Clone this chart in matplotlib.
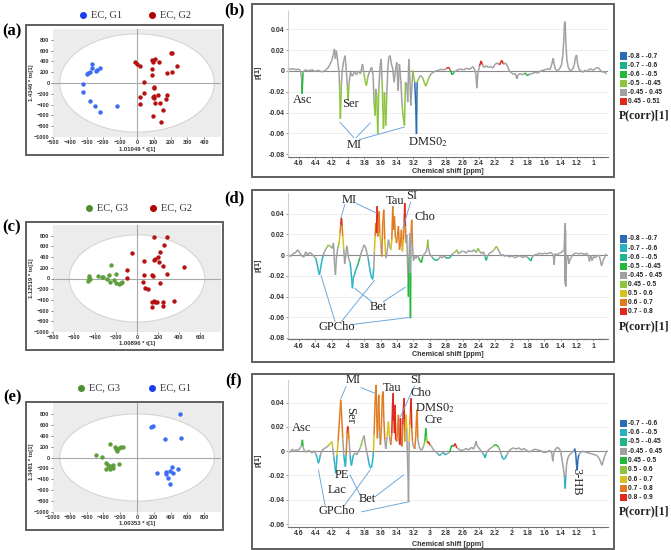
import numpy as np
import matplotlib
matplotlib.use('Agg')
import matplotlib.pyplot as plt
from matplotlib.collections import LineCollection
from matplotlib.patches import Rectangle, Ellipse
from matplotlib.ticker import MultipleLocator

plt.rcParams['mathtext.fontset'] = 'stix'
SERIF = 'Liberation Serif'
SANS = 'Liberation Sans'

# ---------------- score plots (t[1] vs to[1]) ----------------
a_g1_x = [-265, -265, -237, -223, -245, -289, -295, -277, -321, -323, -281, -249, -221, -118]
a_g1_y = [344, 282, 233, 276, 214, 177, 165, 196, -20, -168, -328, -420, -544, -420]
a_g2_x = [-14, -2, 18, 87, 97, 107, 133, 205, 211, 237, 177, 209, 89, 87, 44, 99, 103, 44, 20, 18,
          101, 101, 127, 177, 171, 109, 137, 157, 93, 145, 97]
a_g2_y = [381, 356, 319, 430, 393, 442, 387, 553, 553, 307, 184, 202, 264, 147, 23, -75, -88, -192, -266, -390,
          -242, -279, -229, -229, -297, -365, -377, -494, -618, -723, -265]

c_g3_x = [-460, -445, -463, -460, -375, -338, -328, -287, -256, -249, -262, -196, -218, -202, -171, -155, -146]
c_g3_y = [54, -3, -40, 10, 47, 22, 35, -3, -59, 254, 66, 91, -28, -91, -103, -78, -59]
c_g2_x = [-45, 163, 71, 175, 163, 216, 197, 213, 244, 285, 449, -92, -92, 71, 147, 153, 59, 75, 106, 222,
          160, 172, 191, 144, 244, 244, 140, 355, 285, 254]
c_g2_y = [474, 769, 330, 361, 348, 486, 399, 317, 242, 85, 210, 160, 3, 60, 60, 40, -59, -185, -197, -91,
          -417, -436, -448, -448, -448, -517, -536, -423, 780, 630]

e_g3_x = [-490, -415, -324, -264, -252, -244, -213, -185, -165, -367, -343, -324, -304, -284, -371, -316, -331, -213, -284, -300]
e_g3_y = [51, 14, 241, 198, 149, 112, 167, 186, 198, -109, -146, -183, -171, -140, -220, -207, -158, -121, -195, -160]
e_g1_x = [507, 163, 191, 337, 527, 242, 349, 349, 389, 416, 428, 487, 369, 389]
e_g1_y = [806, 567, 579, 339, 364, -287, -275, -300, -250, -183, -293, -214, -379, -490]

# ---------------- loading spectra p[1] ----------------
b_ppm = [4.771, 4.738, 4.706, 4.673, 4.640, 4.608, 4.583, 4.571, 4.566, 4.563,
         4.551, 4.526, 4.485, 4.445, 4.404, 4.363, 4.322, 4.281, 4.249, 4.224,
         4.200, 4.183, 4.167, 4.155, 4.143, 4.126, 4.110, 4.102, 4.094, 4.081,
         4.069, 4.053, 4.037, 4.020, 4.008, 4.000, 3.988, 3.971, 3.947, 3.922,
         3.898, 3.873, 3.849, 3.824, 3.808, 3.792, 3.776, 3.759, 3.735, 3.710,
         3.694, 3.682, 3.669, 3.661, 3.649, 3.637, 3.624, 3.608, 3.596, 3.584,
         3.567, 3.555, 3.539, 3.527, 3.514, 3.502, 3.486, 3.470, 3.453, 3.437,
         3.421, 3.404, 3.388, 3.372, 3.355, 3.339, 3.323, 3.310, 3.298, 3.282,
         3.270, 3.257, 3.245, 3.233, 3.221, 3.208, 3.196, 3.184, 3.172, 3.163,
         3.155, 3.139, 3.115, 3.090, 3.066, 3.049, 3.029, 3.008, 2.984, 2.960,
         2.927, 2.894, 2.862, 2.829, 2.796, 2.772, 2.752, 2.727, 2.703, 2.670,
         2.629, 2.588, 2.548, 2.507, 2.474, 2.454, 2.437, 2.425, 2.413, 2.393,
         2.372, 2.356, 2.335, 2.311, 2.282, 2.254, 2.229, 2.201, 2.172, 2.148,
         2.119, 2.099, 2.074, 2.050, 2.025, 2.001, 1.976, 1.952, 1.936, 1.919,
         1.895, 1.862, 1.834, 1.809, 1.781, 1.748, 1.715, 1.683, 1.650, 1.617,
         1.585, 1.552, 1.528, 1.507, 1.491, 1.479, 1.462, 1.438, 1.413, 1.389,
         1.373, 1.360, 1.352, 1.344, 1.336, 1.324, 1.307, 1.283, 1.254, 1.234,
         1.218, 1.205, 1.193, 1.177, 1.152, 1.128, 1.103, 1.079, 1.054, 1.030,
         1.005, 0.981, 0.956, 0.932, 0.907, 0.883, 0.858, 0.842]
b_p = [0.0019, 0.0026, 0.0013, 0.0022, 0.0010, 0.0019, 0.0003, -0.0061, -0.0110, -0.0220,
       -0.0013, 0.0010, 0.0, 0.0013, -0.0006, 0.0006, -0.0010, 0.0003, 0.0026, 0.0058,
       0.0099, 0.0147, 0.0211, 0.0115, 0.0195, 0.0083, -0.0013, -0.0205, -0.0460, -0.0109,
       0.0019, 0.0099, 0.0147, -0.0013, -0.0157, -0.0285, -0.0125, -0.0013, -0.0051, -0.0006,
       -0.0038, 0.0, -0.0029, 0.0067, -0.0013, -0.0093, -0.0141, -0.0061, 0.0003, 0.0035,
       -0.0045, -0.0300, -0.0429, -0.0173, -0.0237, -0.0605, -0.0173, 0.0051, 0.0115, -0.0093,
       -0.0557, -0.0205, -0.0525, -0.0237, 0.0019, 0.0131, 0.0147, 0.0067, 0.0019, -0.0109,
       0.0003, 0.0083, -0.0189, 0.0067, -0.0093, -0.0333, -0.0461, -0.0525, -0.0109, -0.0125,
       -0.0301, 0.0115, -0.0061, -0.0333, -0.0173, 0.0003, -0.0061, -0.0109, -0.0333, -0.0605,
       -0.0109, -0.0077, -0.0045, -0.0061, -0.0115, -0.0147, -0.0102, -0.0058, -0.0029, -0.0013,
       0.0, 0.0006, 0.0016, 0.0010, 0.0022, 0.0035, 0.0013, -0.0038, -0.0013, 0.0006,
       0.0019, 0.0010, 0.0026, 0.0016, 0.0042, 0.0019, -0.0029, -0.0166, -0.0029, 0.0045,
       0.0096, 0.0058, 0.0032, 0.0051, 0.0032, 0.0045, 0.0026, 0.0064, 0.0077, 0.0058,
       0.0102, 0.0064, 0.0077, 0.0045, 0.0, -0.0019, -0.0032, -0.0026, -0.0077, -0.0038,
       -0.0026, -0.0038, -0.0019, -0.0045, -0.0032, -0.0026, -0.0013, -0.0022, -0.0003, 0.0006,
       0.0013, 0.0022, 0.0013, 0.0067, 0.0122, 0.0067, 0.0013, 0.0003, 0.0019, 0.0058,
       0.0147, 0.0307, 0.0467, 0.0474, 0.0275, 0.0115, 0.0035, 0.0003, 0.0013, 0.0051,
       0.0131, 0.0154, 0.0077, 0.0019, 0.0, -0.0013, 0.0006, -0.0006, 0.0013, 0.0019,
       0.0006, 0.0019, 0.0032, 0.0026, 0.0, -0.0013, -0.0006, -0.0032]
b_cls = ("nnnnnnnnng nnnnnnnnnn nnnnnnnnyn nnnnnynnnn nnnnnyynnn nnynnynnnn ynynnnnnnn "
         "nnnnnnyynn nnnnnnyybb ynnnyyynnn nnnnnrngnn nnnnnnnnnn rnnnnnnnnn rnnnnnnnnn "
         "nnngnnnnnn nnnnnnnnnn nnnnnnnnnn nnnnnnnnnn nnnnnnnn")

d_ppm = [4.771, 4.738, 4.706, 4.673, 4.640, 4.616, 4.591, 4.567, 4.542, 4.518,
         4.494, 4.469, 4.445, 4.420, 4.396, 4.379, 4.363, 4.351, 4.339, 4.322,
         4.306, 4.290, 4.273, 4.257, 4.241, 4.224, 4.208, 4.192, 4.179, 4.167,
         4.155, 4.143, 4.126, 4.110, 4.098, 4.090, 4.081, 4.073, 4.065, 4.053,
         4.041, 4.028, 4.016, 4.004, 3.992, 3.975, 3.963, 3.955, 3.947, 3.935,
         3.922, 3.906, 3.890, 3.873, 3.857, 3.841, 3.820, 3.804, 3.788, 3.771,
         3.755, 3.739, 3.722, 3.710, 3.698, 3.686, 3.678, 3.669, 3.661, 3.653,
         3.645, 3.637, 3.629, 3.620, 3.612, 3.600, 3.588, 3.576, 3.563, 3.551,
         3.539, 3.522, 3.506, 3.494, 3.478, 3.465, 3.453, 3.445, 3.433, 3.421,
         3.408, 3.396, 3.384, 3.371, 3.359, 3.347, 3.335, 3.322, 3.314, 3.306,
         3.298, 3.290, 3.282, 3.274, 3.265, 3.261, 3.253, 3.245, 3.241, 3.237,
         3.233, 3.229, 3.221, 3.212, 3.200, 3.184, 3.168, 3.151, 3.135, 3.119,
         3.102, 3.086, 3.066, 3.049, 3.033, 3.025, 3.017, 3.000, 2.984, 2.964,
         2.943, 2.919, 2.894, 2.870, 2.845, 2.821, 2.796, 2.760, 2.735, 2.711,
         2.686, 2.670, 2.650, 2.621, 2.588, 2.556, 2.523, 2.491, 2.458, 2.433,
         2.409, 2.393, 2.368, 2.344, 2.323, 2.311, 2.295, 2.270, 2.242, 2.221,
         2.201, 2.184, 2.168, 2.148, 2.127, 2.107, 2.082, 2.058, 2.025, 1.993,
         1.960, 1.927, 1.895, 1.862, 1.829, 1.797, 1.781, 1.764, 1.748, 1.724,
         1.691, 1.658, 1.626, 1.593, 1.560, 1.528, 1.503, 1.487, 1.479, 1.470,
         1.446, 1.413, 1.381, 1.356, 1.348, 1.346, 1.344, 1.342, 1.340, 1.336, 1.328, 1.311,
         1.299, 1.283, 1.262, 1.242, 1.209, 1.177, 1.144, 1.111, 1.079, 1.058,
         1.046, 1.034, 1.014, 0.997, 0.973, 0.948, 0.924, 0.899, 0.879, 0.858,
         0.842]
d_p = [-0.0006, 0.0006, -0.0013, 0.0013, 0.0026, 0.0052, 0.0019, -0.0006, -0.0019, 0.0032,
       0.0, 0.0026, 0.0013, -0.0013, -0.0029, -0.0084, -0.0149, -0.0191, -0.0142, -0.0061,
       -0.0006, 0.0032, 0.0058, 0.0078, 0.0097, 0.0090, 0.0078, 0.0065, 0.0116, -0.0061,
       -0.0191, -0.0029, 0.0068, 0.0116, 0.0213, 0.0294, 0.0359, 0.0278, 0.0181, 0.0058,
       -0.0084, 0.0003, 0.0090, 0.0036, -0.0039, -0.0071, -0.0158, -0.0239, -0.0320, -0.0213,
       -0.0191, -0.0142, -0.0116, -0.0071, -0.0029, 0.0019, 0.0065, 0.0100, 0.0078, 0.0026,
       -0.0029, -0.0110, -0.0191, -0.0223, -0.0233, -0.0126, 0.0036, 0.0181, 0.0310, 0.0213,
       0.0472, 0.0181, 0.0326, 0.0423, 0.0213, 0.0116, -0.0013, 0.0310, 0.0439, 0.0149,
       -0.0029, 0.0036, 0.0149, 0.0100, 0.0052, 0.0149, 0.0472, 0.0245, 0.0375, 0.0165,
       0.0116, 0.0181, 0.0278, 0.0052, 0.0116, 0.0245, 0.0036, 0.0149, 0.0310, 0.0504,
       0.0278, 0.0116, 0.0197, -0.0045, -0.0271, -0.0401, -0.0013, 0.0213, -0.0174, -0.0610,
       -0.0174, 0.0229, 0.0342, 0.0100, -0.0052, -0.0013, -0.0032, 0.0, -0.0026, -0.0058,
       -0.0071, -0.0013, 0.0013, 0.0026, 0.0068, 0.0149, 0.0068, 0.0013, -0.0006, -0.0026,
       -0.0045, -0.0052, -0.0039, -0.0013, -0.0026, -0.0006, -0.0032, -0.0032, 0.0, 0.0019,
       0.0032, 0.0052, 0.0013, 0.0032, 0.0039, 0.0019, 0.0045, 0.0032, 0.0052, 0.0026,
       0.0065, 0.0039, 0.0013, 0.0032, -0.0013, -0.0052, -0.0013, 0.0019, 0.0032, 0.0045,
       0.0065, 0.0084, 0.0058, 0.0032, -0.0006, 0.0006, -0.0013, 0.0, -0.0019, -0.0006,
       -0.0026, -0.0013, -0.0006, -0.0023, -0.0010, -0.0026, -0.0039, -0.0058, -0.0019, 0.0,
       0.0006, 0.0019, 0.0010, 0.0019, 0.0013, 0.0026, 0.0019, -0.0013, -0.0094, 0.0013,
       0.0003, 0.0019, 0.0032, 0.0052, 0.0278, -0.0250, 0.0310, -0.0287, 0.0240, -0.0304, -0.0045, -0.0006,
       -0.0084, -0.0039, -0.0013, 0.0013, 0.0019, 0.0013, 0.0019, 0.0006, 0.0019, -0.0013,
       -0.0061, 0.0, -0.0052, -0.0013, -0.0026, 0.0, -0.0013, -0.0103, -0.0052, -0.0013,
       0.0013]
d_cls = ("nnnnnnnnnn nnnnnTTTTT nnnyynnnnn nnnyYoroYn nnnnnnTTTT TGGgnnnnnn nTTTTnyYoo "
         "roooYnnooY nnnnnYoooY noonoonYor onnnngnnng nnonnnnnng gnnnnynnnn GGnnnnnGnn "
         "nynnnnnnnn ynnnnGnnnn yynnnnnnnn nnnnnnGGnn nnnnnnnnnn nnnnnnnnnnnn nnnnnnnnnn "
         "nnnnnnnnnn n")

f_ppm = [4.771, 4.738, 4.706, 4.681, 4.657, 4.632, 4.608, 4.583, 4.567, 4.559,
         4.551, 4.534, 4.510, 4.485, 4.461, 4.436, 4.412, 4.392, 4.379, 4.363,
         4.351, 4.339, 4.322, 4.298, 4.273, 4.249, 4.228, 4.212, 4.200, 4.188,
         4.175, 4.163, 4.151, 4.143, 4.135, 4.122, 4.110, 4.098, 4.090, 4.077,
         4.065, 4.053, 4.041, 4.032, 4.024, 4.012, 4.004, 3.996, 3.988, 3.975,
         3.967, 3.959, 3.947, 3.935, 3.914, 3.894, 3.873, 3.849, 3.828, 3.816,
         3.804, 3.792, 3.776, 3.759, 3.747, 3.731, 3.714, 3.702, 3.690, 3.682,
         3.673, 3.665, 3.657, 3.649, 3.641, 3.633, 3.624, 3.616, 3.604, 3.592,
         3.580, 3.571, 3.563, 3.551, 3.539, 3.522, 3.506, 3.494, 3.478, 3.465,
         3.457, 3.449, 3.441, 3.433, 3.425, 3.417, 3.404, 3.392, 3.384, 3.376,
         3.367, 3.359, 3.351, 3.339, 3.331, 3.323, 3.314, 3.306, 3.298, 3.290,
         3.282, 3.274, 3.265, 3.261, 3.257, 3.253, 3.245, 3.237, 3.229, 3.221,
         3.212, 3.200, 3.184, 3.172, 3.163, 3.155, 3.147, 3.135, 3.119, 3.098,
         3.078, 3.061, 3.049, 3.041, 3.029, 3.017, 3.000, 2.984, 2.964, 2.943,
         2.923, 2.902, 2.882, 2.862, 2.837, 2.813, 2.788, 2.760, 2.731, 2.711,
         2.690, 2.670, 2.646, 2.621, 2.588, 2.556, 2.523, 2.491, 2.466, 2.446,
         2.433, 2.421, 2.401, 2.376, 2.352, 2.335, 2.323, 2.311, 2.291, 2.262,
         2.238, 2.217, 2.197, 2.180, 2.160, 2.140, 2.123, 2.107, 2.091, 2.074,
         2.058, 2.033, 2.009, 1.976, 1.944, 1.911, 1.879, 1.846, 1.813, 1.781,
         1.748, 1.715, 1.683, 1.650, 1.617, 1.585, 1.552, 1.528, 1.507, 1.495,
         1.483, 1.462, 1.438, 1.413, 1.397, 1.381, 1.364, 1.352, 1.344, 1.336,
         1.328, 1.311, 1.291, 1.266, 1.242, 1.226, 1.213, 1.205, 1.197, 1.189,
         1.177, 1.156, 1.132, 1.103, 1.075, 1.046, 1.018, 0.989, 0.960, 0.932,
         0.912, 0.895, 0.879, 0.862, 0.846, 0.834]
f_p = [-0.0017, 0.0003, -0.0008, 0.0019, -0.0003, 0.0014, 0.0008, 0.0030, 0.0052, 0.0094,
       0.0039, 0.0003, -0.0008, 0.0008, -0.0003, -0.0014, 0.0003, -0.0025, -0.0052, -0.0099,
       -0.0072, -0.0030, 0.0003, 0.0019, 0.0030, 0.0041, 0.0058, 0.0069, 0.0080, 0.0030,
       -0.0044, -0.0107, -0.0182, -0.0113, -0.0030, 0.0080, 0.0217, 0.0327, 0.0424, 0.0272,
       0.0107, -0.0025, -0.0099, -0.0127, -0.0030, 0.0149, 0.0204, 0.0176, 0.0094, -0.0030,
       -0.0091, -0.0118, -0.0072, -0.0030, -0.0014, -0.0030, -0.0003, 0.0030, 0.0080, 0.0107,
       0.0129, 0.0066, 0.0011, -0.0044, -0.0091, -0.0135, -0.0135, -0.0091, -0.0003, 0.0135,
       0.0327, 0.0465, 0.0547, 0.0272, 0.0107, 0.0327, 0.0465, 0.0162, 0.0052, 0.0217,
       0.0465, 0.0492, 0.0272, 0.0094, 0.0019, 0.0121, 0.0245, 0.0121, 0.0052, 0.0149,
       0.0355, 0.0479, 0.0245, 0.0149, 0.0382, 0.0094, 0.0080, 0.0217, 0.0300, 0.0080,
       0.0052, 0.0272, 0.0052, 0.0039, 0.0217, 0.0355, 0.0437, 0.0080, 0.0245, 0.0300,
       0.0190, -0.0030, -0.0250, -0.0415, -0.0195, 0.0080, 0.0217, 0.0327, 0.0437, 0.0190,
       0.0080, 0.0039, 0.0019, 0.0121, 0.0272, 0.0341, 0.0107, 0.0047, 0.0019, 0.0008,
       0.0039, 0.0080, 0.0190, 0.0121, 0.0066, 0.0080, 0.0052, 0.0047, 0.0019, 0.0003,
       -0.0008, -0.0019, -0.0036, -0.0025, -0.0008, -0.0030, -0.0019, -0.0010, 0.0050, 0.0039,
       0.0063, 0.0028, 0.0017, 0.0006, 0.0011, 0.0022, 0.0011, 0.0033, 0.0017, 0.0050,
       0.0083, 0.0044, 0.0028, 0.0006, -0.0017, -0.0033, -0.0055, -0.0022, 0.0006, 0.0022,
       0.0033, 0.0044, 0.0055, 0.0050, 0.0033, 0.0006, -0.0033, -0.0061, -0.0066, -0.0055,
       -0.0028, 0.0, 0.0017, 0.0028, 0.0017, 0.0028, 0.0011, 0.0022, 0.0006, -0.0006,
       0.0006, 0.0017, 0.0011, 0.0006, -0.0006, -0.0011, 0.0, 0.0006, -0.0019, -0.0083,
       -0.0011, 0.0017, 0.0033, 0.0017, -0.0011, -0.0074, -0.0149, -0.0226, -0.0308, -0.0198,
       -0.0116, -0.0055, -0.0028, -0.0017, 0.0006, 0.0022, -0.0033, -0.0116, -0.0157, -0.0074,
       -0.0028, -0.0011, 0.0, -0.0006, -0.0011, -0.0017, -0.0022, -0.0028, -0.0033, -0.0055,
       -0.0083, -0.0116, -0.0083, -0.0044, -0.0017, 0.0006]
f_cls = ("nnnnnnnnng nnnnnnnnTT TnnnnnyYYn nTTTnYoooo nnTTnoronn TTTnnnnnyy nnnnTTTTnY "
         "oooonoonno ooonnnYnno rronrnnoon nrnnorrnYY nnnnnnYoro nnnooonnnn nygyoronnn "
         "nnTnnTnngn rnnnnnnnnn nnnnnTTnnn nyggnnnTTT nnnnnnnnnn nnnnnnnnnn nnnnnnnnTn "
         "nnnnnnBBBB nnnnnnnnnn nnnnnn")

# legend classes of P(corr)[1]
b_leg = ['-0.8 - -0.7', '-0.7 - -0.6', '-0.6 - -0.5', '-0.5 - -0.45', '-0.45 - 0.45', '0.45 - 0.51']
b_leg_col = ['#2a6db5', '#1fb090', '#22b83c', '#8cc63e', '#a0a0a0', '#e0281e']
d_leg = ['-0.8 - -0.7', '-0.7 - -0.6', '-0.6 - -0.5', '-0.5 - -0.45', '-0.45 - 0.45',
         '0.45 - 0.5', '0.5 - 0.6', '0.6 - 0.7', '0.7 - 0.8']
d_leg_col = ['#2a6db5', '#29b2c4', '#1fb68c', '#22b83c', '#a0a0a0', '#8cc63e', '#d6c11e', '#e07b20', '#e0281e']
f_leg = ['-0.7 - -0.6', '-0.6 - -0.5', '-0.5 - -0.45', '-0.45 - 0.45', '0.45 - 0.5',
         '0.5 - 0.6', '0.6 - 0.7', '0.7 - 0.8', '0.8 - 0.9']
f_leg_col = ['#2a6db5', '#29b2c4', '#1fb68c', '#a0a0a0', '#22b83c', '#8cc63e', '#d6c11e', '#e07b20', '#e0281e']

GRAY = '#a0a0a0'
b_map = {'n': GRAY, 'b': '#2a6db5', 'g': '#22b83c', 'y': '#8cc63e', 'r': '#e0281e'}
d_map = {'n': GRAY, 'T': '#29b2c4', 'G': '#1fb68c', 'g': '#22b83c', 'y': '#8cc63e',
         'Y': '#d6c11e', 'o': '#e07b20', 'r': '#e0281e'}
f_map = {'n': GRAY, 'B': '#2a6db5', 'T': '#29b2c4', 'G': '#1fb68c', 'g': '#22b83c', 'y': '#8cc63e',
         'Y': '#d6c11e', 'o': '#e07b20', 'r': '#e0281e'}

W, H = 671, 550
fig = plt.figure(figsize=(W / 100, H / 100), dpi=100)


def rect(x0, y0, x1, y1):
    # pixel box (top-left origin) -> figure fraction
    return [x0 / W, 1 - y1 / H, (x1 - x0) / W, (y1 - y0) / H]


def score_panel(box, xlim, xticks, groups, ell):
    ax = fig.add_axes(rect(*box))
    ax.set_facecolor('#ececec')
    ax.add_patch(Ellipse((0, 0), 2 * ell[0], 2 * ell[1], fc='white', ec='#d5d5d5', lw=0.8, zorder=0))
    ax.axhline(0, color='#a8a8a8', lw=0.8, zorder=1)
    ax.axvline(0, color='#a8a8a8', lw=0.8, zorder=1)
    for x, y, c in groups:
        ax.scatter(x, y, s=10, color=c, zorder=3, linewidths=0)
    ax.set_xlim(*xlim)
    ax.set_ylim(-1000, 1000)
    ax.set_xticks(xticks)
    ax.set_yticks(list(range(-1000, 801, 200)))
    for s in ax.spines.values():
        s.set_visible(False)
    ax.tick_params(length=1.5, width=0.5, color='#606060', pad=1.0, labelsize=4.0)
    for lab in ax.get_xticklabels() + ax.get_yticklabels():
        lab.set_fontfamily(SANS)
        lab.set_fontweight('bold')
        lab.set_color('#333333')
    return ax


def spectrum_panel(box, ppm, p, cls, cmap, ylim, yticks):
    ax = fig.add_axes(rect(*box))
    cls = cls.replace(' ', '')
    assert len(ppm) == len(p) == len(cls), (len(ppm), len(p), len(cls))
    pts = np.column_stack([ppm, p])
    segs = np.stack([pts[:-1], pts[1:]], axis=1)
    pa = np.abs(np.asarray(p))
    idx = np.arange(len(p) - 1) + (pa[1:] >= pa[:-1]).astype(int)
    cols = [cmap[cls[i]] for i in idx]
    for t in yticks:
        if t != 0:
            ax.axhline(t, color='#ebebeb', lw=0.6, zorder=0)
    ax.axhline(0, color='#8a8a8a', lw=0.8, zorder=1)
    ax.add_collection(LineCollection(segs, colors=cols, linewidths=1.1, zorder=2))
    ax.set_xlim(4.735, 0.82)
    ax.set_ylim(*ylim)
    xt = [4.6, 4.4, 4.2, 4.0, 3.8, 3.6, 3.4, 3.2, 3.0, 2.8, 2.6, 2.4, 2.2, 2.0, 1.8, 1.6, 1.4, 1.2, 1.0]
    ax.set_xticks(xt)
    ax.set_xticklabels(['%g' % v for v in xt])
    ax.xaxis.set_minor_locator(MultipleLocator(0.1))
    ax.set_yticks(yticks)
    ax.set_yticklabels(['0' if v == 0 else '%g' % v for v in yticks])
    ax.spines['top'].set_visible(False)
    ax.spines['right'].set_visible(False)
    ax.spines['left'].set_color('#cfcfcf')
    ax.spines['bottom'].set_color('#707070')
    ax.tick_params(axis='both', length=1.5, width=0.5, color='#707070', pad=1.0, labelsize=5.0)
    ax.tick_params(axis='x', which='minor', length=1.0, width=0.4, color='#707070')
    for lab in ax.get_xticklabels() + ax.get_yticklabels():
        lab.set_fontfamily(SANS)
        lab.set_fontweight('bold')
        lab.set_color('#333333')
    return ax


def note(ax, x, y, s, rot=0):
    ax.text(x, y, s, ha='center', va='center', fontsize=9, family=SERIF, rotation=rot,
            color='#222222', zorder=5)


def leader(ax, x0, y0, x1, y1):
    ax.plot([x0, x1], [y0, y1], color='#6fa8dc', lw=0.7, zorder=4, clip_on=False)


# ---- score plots ----
score_panel((53, 29, 221, 137), (-500, 500), list(range(-500, 401, 100)),
            [(a_g1_x, a_g1_y, '#3a6cf4'), (a_g2_x, a_g2_y, '#b41212')], (460, 910))
score_panel((53, 225, 221, 332), (-800, 800), list(range(-800, 601, 200)),
            [(c_g3_x, c_g3_y, '#5e9e3c'), (c_g2_x, c_g2_y, '#b41212')], (645, 815))
score_panel((53, 403, 221, 512), (-1000, 1000), list(range(-1000, 801, 200)),
            [(e_g3_x, e_g3_y, '#5e9e3c'), (e_g1_x, e_g1_y, '#3a6cf4')], (920, 800))

# ---- loading spectra ----
yt8 = [-0.08, -0.06, -0.04, -0.02, 0, 0.02, 0.04]
axb = spectrum_panel((288, 10.6, 608, 156.7), b_ppm, b_p, b_cls, b_map, (-0.0825, 0.058), yt8)
axd = spectrum_panel((288, 193, 608, 339.3), d_ppm, d_p, d_cls, d_map, (-0.0813, 0.060), yt8)
axf = spectrum_panel((288, 380, 608, 526.7), f_ppm, f_p, f_cls, f_map, (-0.0622, 0.0587),
                     [-0.06, -0.04, -0.02, 0, 0.02, 0.04])

# annotations (b)
note(axb, 4.559, -0.0278, 'Asc')
note(axb, 3.975, -0.0317, 'Ser')
note(axb, 3.925, -0.071, 'MI')
leader(axb, 3.93, -0.064, 4.098, -0.0496)
leader(axb, 3.90, -0.064, 3.731, -0.0502)
leader(axb, 3.86, -0.066, 3.311, -0.054)
note(axb, 3.02, -0.0685, 'DMS0$_2$')

# annotations (d)
note(axd, 3.99, 0.0535, 'MI')
leader(axd, 4.04, 0.0487, 4.085, 0.0365)
leader(axd, 3.90, 0.050, 3.655, 0.0407)
note(axd, 3.42, 0.052, 'Tau')
note(axd, 3.22, 0.057, 'SI')
leader(axd, 3.235, 0.051, 3.33, 0.026)
note(axd, 3.06, 0.037, 'Cho')
note(axd, 3.63, -0.050, 'Bet')
leader(axd, 3.71, -0.045, 3.92, -0.032)
leader(axd, 3.57, -0.045, 3.30, -0.031)
note(axd, 4.135, -0.069, 'GPCho')
leader(axd, 4.16, -0.064, 4.33, -0.020)
leader(axd, 4.08, -0.064, 3.68, -0.0246)
leader(axd, 3.95, -0.067, 3.23, -0.060)

# annotations (f)
note(axf, 4.567, 0.0189, 'Asc')
note(axf, 3.935, 0.0587, 'MI')
leader(axf, 4.024, 0.0532, 4.09, 0.0435)
leader(axf, 3.84, 0.0524, 3.68, 0.0480)
note(axf, 3.975, 0.0298, 'Ser', rot=-90)
note(axf, 3.457, 0.0524, 'Tau')
note(axf, 3.167, 0.0587, 'SI')
leader(axf, 3.19, 0.0535, 3.36, 0.0285)
note(axf, 3.106, 0.0477, 'Cho')
note(axf, 2.935, 0.0354, 'DMS0$_2$')
note(axf, 2.956, 0.0257, 'Cre')
note(axf, 4.077, -0.0196, 'PE')
note(axf, 4.139, -0.032, 'Lac')
note(axf, 3.77, -0.0394, 'Bet')
leader(axf, 3.853, -0.0362, 3.975, -0.0196)
leader(axf, 3.67, -0.0375, 3.323, -0.0196)
note(axf, 4.139, -0.0493, 'GPCho')
leader(axf, 4.281, -0.0444, 4.363, -0.0155)
leader(axf, 4.057, -0.0458, 3.731, -0.0155)
leader(axf, 3.833, -0.0499, 3.253, -0.0416)
note(axf, 1.201, -0.0248, '3-HB', rot=-90)

# ---- figure-level overlay in pixel coordinates ----
ov = fig.add_axes([0, 0, 1, 1])
ov.set_xlim(0, W)
ov.set_ylim(H, 0)
ov.axis('off')

for x0, y0, x1, y1 in [(26, 25, 223, 155), (26, 222, 223, 350), (26, 402, 223, 530),
                       (252, 4, 614, 177), (252, 190, 614, 362), (252, 374, 614, 549)]:
    ov.add_patch(Rectangle((x0, y0), x1 - x0, y1 - y0, fill=False, ec='#5f5f5f', lw=1.4))

for s, x, y in [('(a)', 12, 31), ('(b)', 234, 10), ('(c)', 12, 227),
                ('(d)', 234, 198), ('(e)', 12, 397), ('(f)', 234, 380)]:
    ov.text(x, y, s, ha='center', va='center', fontsize=12, fontweight='bold', family=SERIF)

# score-plot legends
for y, items in [(15, [(83, '#1a3cf0', 'EC, G1'), (152, '#b00000', 'EC, G2')]),
                 (208, [(89, '#4f8f2f', 'EC, G3'), (153, '#b00000', 'EC, G2')]),
                 (388, [(81, '#4f8f2f', 'EC, G3'), (152, '#1a3cf0', 'EC, G1')])]:
    for x, c, s in items:
        ov.plot([x], [y], 'o', ms=4, color=c)
        ov.text(x + 8, y, s, ha='left', va='center', fontsize=7.5, family=SERIF, color='#333333')

# score-plot axis labels
for x, y, s, rot in [(137, 149, '1.01049 * t[1]', 0), (32, 83, '1.4346 * to[1]', 90),
                     (137, 344, '1.00896 * t[1]', 0), (31, 278, '1.12519 * to[1]', 90),
                     (137, 524, '1.00353 * t[1]', 0), (31, 462, '1.3481 * to[1]', 90)]:
    ov.text(x, y, s, ha='center', va='center', fontsize=4.2, fontweight='bold', family=SANS,
            rotation=rot, color='#333333')

# spectrum axis labels
for y in (171.5, 355, 544):
    ov.text(448, y, 'Chemical shift [ppm]', ha='center', va='center', fontsize=5.2,
            fontweight='bold', family=SANS, color='#333333')
for y in (72, 265, 460):
    ov.text(258, y, 'p[1]', ha='center', va='center', fontsize=5.2, fontweight='bold',
            family=SANS, rotation=90, color='#333333')

# P(corr)[1] colour keys
for y0, step, labels, colors, ty in [(56, 9.15, b_leg, b_leg_col, 115),
                                      (239, 9.08, d_leg, d_leg_col, 326),
                                      (423.3, 9.3, f_leg, f_leg_col, 511.7)]:
    for i, (s, c) in enumerate(zip(labels, colors)):
        y = y0 + i * step
        ov.add_patch(Rectangle((620, y - 3.6), 7.3, 7.3, fc=c, ec='none'))
        ov.text(628.3, y, s, ha='left', va='center', fontsize=4.8, fontweight='bold',
                family=SANS, color='#222222')
    ov.text(619, ty, 'P(corr)[1]', ha='left', va='center', fontsize=8.5, fontweight='bold',
            family=SERIF, color='#222222')

fig.savefig('out.png', dpi=100)
